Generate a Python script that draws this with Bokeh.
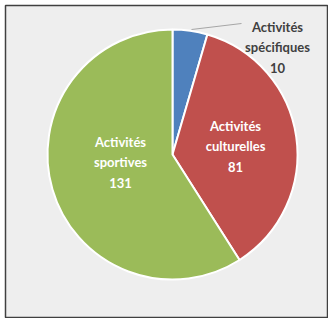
import math
from bokeh.plotting import figure
from bokeh.models import Range1d, ColumnDataSource
from bokeh.core.properties import value
from bokeh.embed import file_html
from bokeh.resources import INLINE

categories = ["Activités spécifiques", "Activités culturelles", "Activités sportives"]
label_texts = ["Activités\nspécifiques", "Activités\nculturelles", "Activités\nsportives"]
counts = [10, 81, 131]
colors = ["#4F81BD", "#C0504D", "#9BBB59"]

W, H = 328, 318
cx, cy, R = 172, 164, 125

total = sum(counts)
starts, ends = [], []
cum = 0
for v in counts:
    a0 = math.pi / 2 - 2 * math.pi * cum / total
    cum += v
    a1 = math.pi / 2 - 2 * math.pi * cum / total
    starts.append(a1)
    ends.append(a0)

p = figure(width=W, height=H, output_backend="svg", toolbar_location=None,
           x_range=Range1d(0, W), y_range=Range1d(0, H), min_border=0)
p.axis.visible = False
p.grid.visible = False
p.background_fill_color = "white"
p.border_fill_color = "white"
p.outline_line_color = None

# chart area frame
p.quad(left=5, right=327, bottom=1, top=313, fill_color="#EEEEEE",
       line_color="#404040", line_width=1.5)

src = ColumnDataSource(dict(start=starts, end=ends, color=colors, cat=categories, v=counts))
p.wedge(x=cx, y=cy, radius=R, start_angle="start", end_angle="end", direction="anticlock",
        fill_color="color", line_color="white", line_width=2, source=src)

# label anchors (offsets relative to pie centre, in px)
label_dx = [105, 63, -52]
label_dy = [107, 8, -8]
label_colors = ["#404040", "white", "white"]
texts = [f"{t}\n{v}" for t, v in zip(label_texts, counts)]
lsrc = ColumnDataSource(dict(x=[cx + d for d in label_dx], y=[cy + d for d in label_dy],
                             t=texts, c=label_colors))
p.text(x="x", y="y", text="t", text_color="c", source=lsrc,
       text_font=value("Lato"), text_font_style="bold", text_font_size="13px",
       text_align="center", text_baseline="middle", text_line_height=1.3)

# leader line for the small slice
p.line(x=[cx + 19, cx + 69], y=[cy + 125, cy + 131], line_color="#A6A6A6", line_width=1)

open("out.html", "w").write(file_html(p, INLINE))
